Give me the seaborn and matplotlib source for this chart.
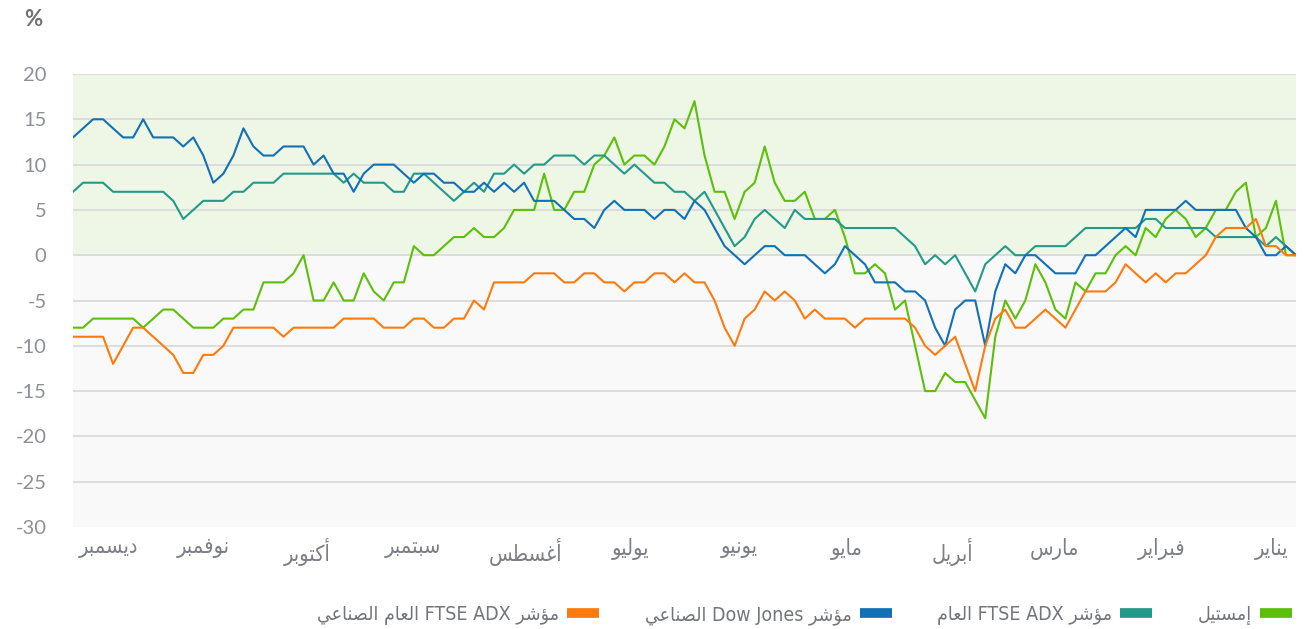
import numpy as np
import pandas as pd
import matplotlib
matplotlib.use("Agg")
import matplotlib.pyplot as plt
import seaborn as sns
from matplotlib.lines import Line2D

# --- DATOS (valores leídos de izquierda = diciembre a derecha = enero, cada ~2 sesiones) ---
emsteel = [
    -8, -8, -7, -7, -7, -7, -7, -8, -7, -6,
    -6, -7, -8, -8, -8, -7, -7, -6, -6, -3,
    -3, -3, -2, 0, -5, -5, -3, -5, -5, -2,
    -4, -5, -3, -3, 1, 0, 0, 1, 2, 2,
    3, 2, 2, 3, 5, 5, 5, 9, 5, 5,
    7, 7, 10, 11, 13, 10, 11, 11, 10, 12,
    15, 14, 17, 11, 7, 7, 4, 7, 8, 12,
    8, 6, 6, 7, 4, 4, 5, 2, -2, -2,
    -1, -2, -6, -5, -10, -15, -15, -13, -14, -14,
    -16, -18, -9, -5, -7, -5, -1, -3, -6, -7,
    -3, -4, -2, -2, 0, 1, 0, 3, 2, 4,
    5, 4, 2, 3, 5, 5, 7, 8, 2, 3,
    6, 0, 0,
]
ftse_adx = [
    7, 8, 8, 8, 7, 7, 7, 7, 7, 7,
    6, 4, 5, 6, 6, 6, 7, 7, 8, 8,
    8, 9, 9, 9, 9, 9, 9, 8, 9, 8,
    8, 8, 7, 7, 9, 9, 8, 7, 6, 7,
    8, 7, 9, 9, 10, 9, 10, 10, 11, 11,
    11, 10, 11, 11, 10, 9, 10, 9, 8, 8,
    7, 7, 6, 7, 5, 3, 1, 2, 4, 5,
    4, 3, 5, 4, 4, 4, 4, 3, 3, 3,
    3, 3, 3, 2, 1, -1, 0, -1, 0, -2,
    -4, -1, 0, 1, 0, 0, 1, 1, 1, 1,
    2, 3, 3, 3, 3, 3, 3, 4, 4, 3,
    3, 3, 3, 3, 2, 2, 2, 2, 2, 1,
    2, 1, 0,
]
dow_jones = [
    13, 14, 15, 15, 14, 13, 13, 15, 13, 13,
    13, 12, 13, 11, 8, 9, 11, 14, 12, 11,
    11, 12, 12, 12, 10, 11, 9, 9, 7, 9,
    10, 10, 10, 9, 8, 9, 9, 8, 8, 7,
    7, 8, 7, 8, 7, 8, 6, 6, 6, 5,
    4, 4, 3, 5, 6, 5, 5, 5, 4, 5,
    5, 4, 6, 5, 3, 1, 0, -1, 0, 1,
    1, 0, 0, 0, -1, -2, -1, 1, 0, -1,
    -3, -3, -3, -4, -4, -5, -8, -10, -6, -5,
    -5, -10, -4, -1, -2, 0, 0, -1, -2, -2,
    -2, 0, 0, 1, 2, 3, 2, 5, 5, 5,
    5, 6, 5, 5, 5, 5, 5, 3, 2, 0,
    0, 1, 0,
]
ftse_adx_ind = [
    -9, -9, -9, -9, -12, -10, -8, -8, -9, -10,
    -11, -13, -13, -11, -11, -10, -8, -8, -8, -8,
    -8, -9, -8, -8, -8, -8, -8, -7, -7, -7,
    -7, -8, -8, -8, -7, -7, -8, -8, -7, -7,
    -5, -6, -3, -3, -3, -3, -2, -2, -2, -3,
    -3, -2, -2, -3, -3, -4, -3, -3, -2, -2,
    -3, -2, -3, -3, -5, -8, -10, -7, -6, -4,
    -5, -4, -5, -7, -6, -7, -7, -7, -8, -7,
    -7, -7, -7, -7, -8, -10, -11, -10, -9, -12,
    -15, -10, -7, -6, -8, -8, -7, -6, -7, -8,
    -6, -4, -4, -4, -3, -1, -2, -3, -2, -3,
    -2, -2, -1, 0, 2, 3, 3, 3, 4, 1,
    1, 0, 0,
]

series_names = ["إمستيل", "مؤشر FTSE ADX العام", "مؤشر Dow Jones الصناعي",
                "مؤشر FTSE ADX العام الصناعي"]
series_colors = ["#5cbf0a", "#23998a", "#1170b6", "#ff7a0d"]

months = ["يناير", "فبراير", "مارس", "أبريل", "مايو", "يونيو",
          "يوليو", "أغسطس", "سبتمبر", "أكتوبر", "نوفمبر", "ديسمبر"]
month_pos = [119.6, 108.6, 97.9, 87.7, 77.2, 66.5, 55.6, 45.1, 33.9, 23.4, 13.0, 3.5]

y_ticks = list(range(-30, 25, 5))

# --- Arabe: formas de presentación + orden visual (matplotlib no hace shaping) ---
FORMS = {
    'ا': ('\ufe8d', '\ufe8e', None, None), 'أ': ('\ufe83', '\ufe84', None, None),
    'إ': ('\ufe87', '\ufe88', None, None), 'ؤ': ('\ufe85', '\ufe86', None, None),
    'ب': ('\ufe8f', '\ufe90', '\ufe91', '\ufe92'), 'ت': ('\ufe95', '\ufe96', '\ufe97', '\ufe98'),
    'د': ('\ufea9', '\ufeaa', None, None), 'ر': ('\ufead', '\ufeae', None, None),
    'س': ('\ufeb1', '\ufeb2', '\ufeb3', '\ufeb4'), 'ش': ('\ufeb5', '\ufeb6', '\ufeb7', '\ufeb8'),
    'ص': ('\ufeb9', '\ufeba', '\ufebb', '\ufebc'), 'ط': ('\ufec1', '\ufec2', '\ufec3', '\ufec4'),
    'ع': ('\ufec9', '\ufeca', '\ufecb', '\ufecc'), 'غ': ('\ufecd', '\ufece', '\ufecf', '\ufed0'),
    'ف': ('\ufed1', '\ufed2', '\ufed3', '\ufed4'), 'ك': ('\ufed9', '\ufeda', '\ufedb', '\ufedc'),
    'ل': ('\ufedd', '\ufede', '\ufedf', '\ufee0'), 'م': ('\ufee1', '\ufee2', '\ufee3', '\ufee4'),
    'ن': ('\ufee5', '\ufee6', '\ufee7', '\ufee8'), 'و': ('\ufeed', '\ufeee', None, None),
    'ي': ('\ufef1', '\ufef2', '\ufef3', '\ufef4'),
}


def shape_word(w):
    out = []
    for i, c in enumerate(w):
        f = FORMS[c]
        prev_j = i > 0 and FORMS[w[i - 1]][2] is not None
        next_j = i < len(w) - 1
        if prev_j and next_j and f[3]:
            out.append(f[3])
        elif prev_j:
            out.append(f[1])
        elif next_j and f[2]:
            out.append(f[2])
        else:
            out.append(f[0])
    return "".join(out[::-1])


def ar(text):
    runs = []
    for w in text.split(" "):
        is_ar = w[0] in FORMS
        if runs and runs[-1][0] == is_ar:
            runs[-1][1].append(w)
        else:
            runs.append((is_ar, [w]))
    parts = []
    for is_ar, words in runs[::-1]:
        if is_ar:
            parts.append(" ".join(shape_word(w) for w in words[::-1]))
        else:
            parts.append(" ".join(words))
    return " ".join(parts)


# --- DataFrame largo para seaborn ---
n = len(emsteel)
frames = []
for name, vals in zip(series_names, [emsteel, ftse_adx, dow_jones, ftse_adx_ind]):
    frames.append(pd.DataFrame({"pos": np.arange(n), "valor": vals, "serie": name}))
df = pd.concat(frames, ignore_index=True)

sns.set_style("white")
plt.rcParams['font.family'] = ['Lato', 'DejaVu Sans']

fig = plt.figure(figsize=(13.1, 6.29), dpi=100)
ax = fig.add_axes([73 / 1310, 1 - 527 / 629, (1296 - 73) / 1310, (527 - 74) / 629])

ax.axhspan(0, 20, color="#eef7e5", zorder=0, lw=0)
ax.axhspan(-30, 0, color="#f9f9f9", zorder=0, lw=0)
for yv in y_ticks[1:]:
    ax.axhline(yv, color="#dadada", lw=1.3, zorder=1)

sns.lineplot(data=df, x="pos", y="valor", hue="serie", palette=series_colors,
             hue_order=series_names, linewidth=1.5, legend=False, ax=ax, zorder=3)

ax.set_xlim(0, n - 1)
ax.set_ylim(-30, 20)
ax.set_yticks(y_ticks)
ax.set_yticklabels([str(v) for v in y_ticks], fontsize=14.5, color="#8c9096")
ax.set_xticks(month_pos)
ax.set_xticklabels([ar(m) for m in months], fontsize=15.5, color="#7c7f85",
                   family=["DejaVu Sans"], fontstretch="condensed")
ax.tick_params(axis="y", length=0, pad=19)
ax.tick_params(axis="x", length=0, pad=8)
ax.set_xlabel("")
ax.set_ylabel("")
for s in ax.spines.values():
    s.set_visible(False)

fig.text(24 / 1310, 1 - 20 / 629, "%", fontsize=16, fontweight="bold",
         color="#6d7178", va="center", ha="left")

# leyenda (de derecha a izquierda, muestra a la derecha del texto)
handles = [Line2D([], [], color=c, lw=7, solid_capstyle="butt") for c in series_colors[::-1]]
labels = [ar(s) for s in series_names[::-1]]
leg = fig.legend(handles, labels, loc="center right",
                 bbox_to_anchor=(1292 / 1310, 1 - 615 / 629), ncol=4, frameon=False,
                 markerfirst=False, handlelength=1.65, handletextpad=0.4,
                 columnspacing=2.35, borderaxespad=0, borderpad=0,
                 prop={"family": ["DejaVu Sans"], "size": 14, "stretch": "condensed"})
for t in leg.get_texts():
    t.set_color("#72767c")

fig.savefig("out.png", dpi=100)
